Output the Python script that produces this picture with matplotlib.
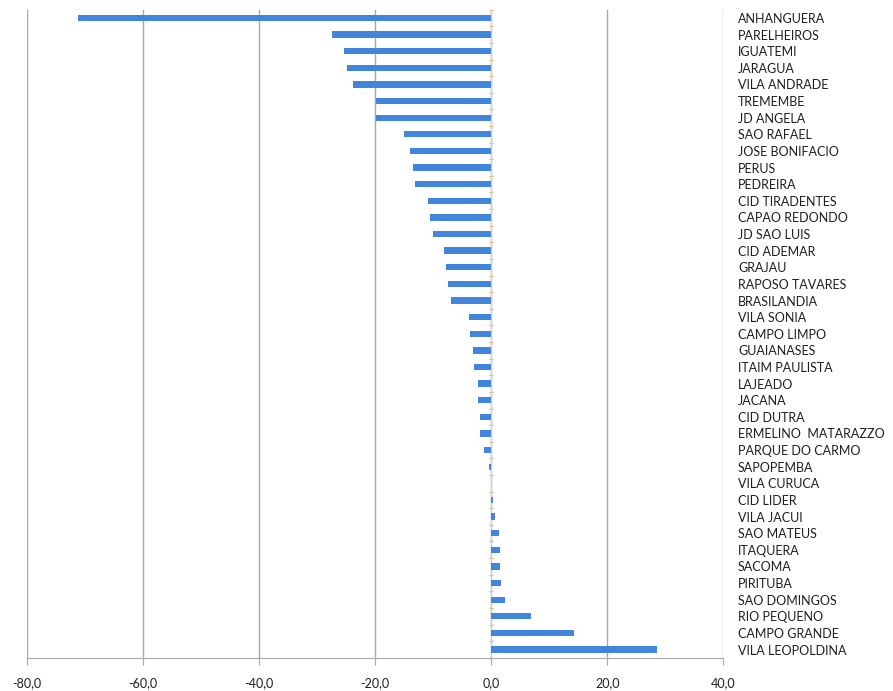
import numpy as np
import matplotlib.pyplot as plt
from matplotlib.ticker import FuncFormatter, FixedLocator

# distritos, de cima para baixo
distritos = [
    "ANHANGUERA", "PARELHEIROS", "IGUATEMI", "JARAGUA", "VILA ANDRADE",
    "TREMEMBE", "JD ANGELA", "SAO RAFAEL", "JOSE BONIFACIO", "PERUS",
    "PEDREIRA", "CID TIRADENTES", "CAPAO REDONDO", "JD SAO LUIS", "CID ADEMAR",
    "GRAJAU", "RAPOSO TAVARES", "BRASILANDIA", "VILA SONIA", "CAMPO LIMPO",
    "GUAIANASES", "ITAIM PAULISTA", "LAJEADO", "JACANA", "CID DUTRA",
    "ERMELINO  MATARAZZO", "PARQUE DO CARMO", "SAPOPEMBA", "VILA CURUCA", "CID LIDER",
    "VILA JACUI", "SAO MATEUS", "ITAQUERA", "SACOMA", "PIRITUBA",
    "SAO DOMINGOS", "RIO PEQUENO", "CAMPO GRANDE", "VILA LEOPOLDINA",
]
valores = [
    -71.2, -27.4, -25.3, -24.8, -23.8,
    -19.9, -19.9, -15.0, -14.0, -13.4,
    -13.2, -10.8, -10.5, -10.0, -8.2,
    -7.8, -7.4, -6.9, -3.8, -3.7,
    -3.1, -2.9, -2.3, -2.2, -1.9,
    -2.0, -1.3, -0.3, 0.0, 0.3,
    0.7, 1.3, 1.5, 1.5, 1.7,
    2.3, 6.9, 14.2, 28.6,
]
ticks_x = [-80, -60, -40, -20, 0, 20, 40]

plt.rcParams['font.family'] = ['Lato', 'DejaVu Sans']

fig = plt.figure(figsize=(8.93, 6.91), dpi=100)
ax = fig.add_axes([0.030, 0.048, 0.780, 0.938])

pos = np.arange(len(distritos))
ax.barh(pos, valores, height=0.38, color='#4285DC', zorder=3)

ax.set_xlim(-80, 40)
ax.set_ylim(len(distritos) - 0.5, -0.5)
ax.set_xticks(ticks_x)
ax.xaxis.set_major_formatter(FuncFormatter(lambda v, p: f"{v:.1f}".replace('.', ',')))
ax.grid(axis='x', color='#A8A8A8', linewidth=1.0, zorder=0)
ax.set_axisbelow(True)

# eixo das categorias passa pelo zero, rotulos ficam a direita
ax.set_yticks(pos)
ax.set_yticklabels(distritos)
ax.yaxis.set_minor_locator(FixedLocator(np.arange(len(distritos) + 1) - 0.5))
ax.tick_params(axis='y', which='major', left=False, right=False,
               labelleft=False, labelright=True, labelsize=9, pad=7, colors='#1E1E1E')
for lbl in ax.get_yticklabels():
    lbl.set_horizontalalignment('left')
ax.tick_params(axis='y', which='minor', left=True, right=False, length=3,
               direction='inout', color='#D9B27A', width=0.8)
ax.spines['left'].set_position(('data', 0))
ax.spines['left'].set_color('#D9D9D9')
ax.spines['left'].set_linewidth(0.6)

ax.spines['top'].set_visible(False)
ax.spines['right'].set_visible(False)
ax.spines['bottom'].set_color('#A8A8A8')
ax.tick_params(axis='x', length=5, color='#A8A8A8', labelsize=9, pad=9, colors='#1E1E1E')
for t in ax.xaxis.get_major_ticks():
    t.tick1line.set_color('#A8A8A8')

fig.savefig('out.png', dpi=100)
